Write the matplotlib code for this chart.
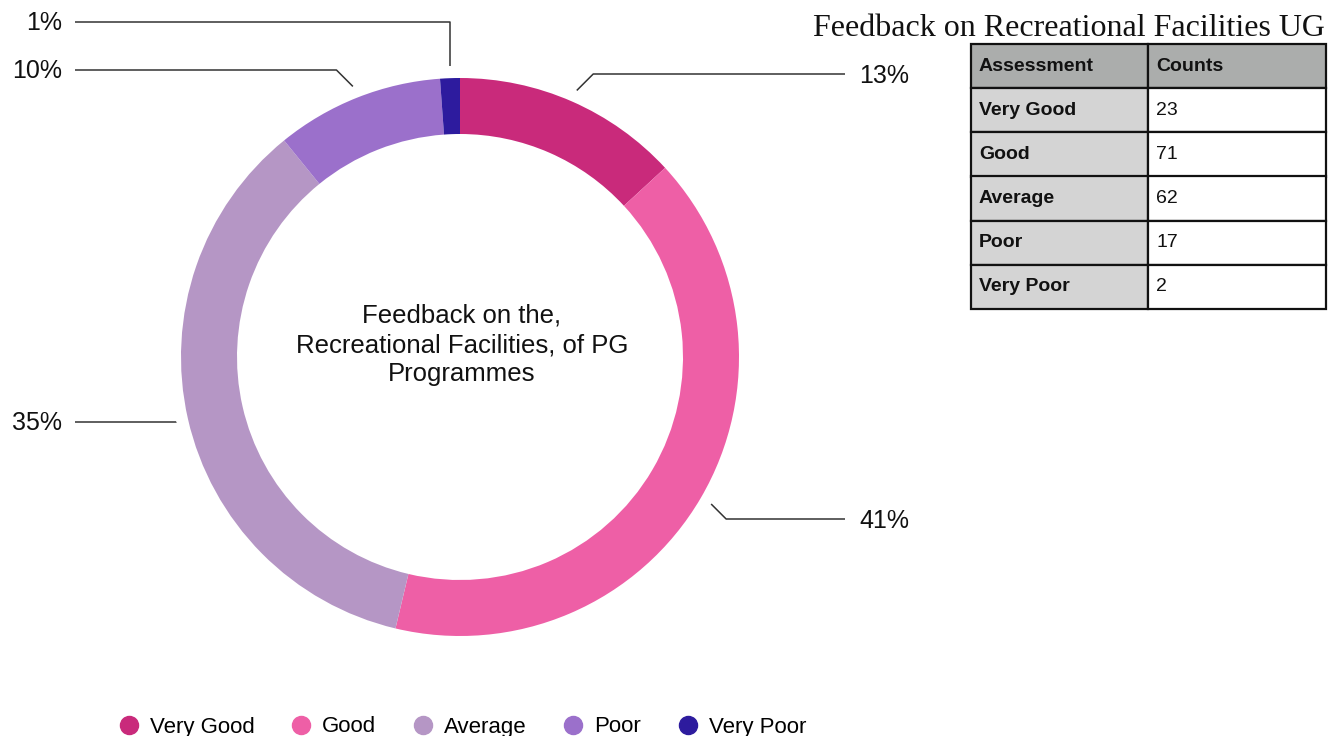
import numpy as np
import matplotlib
matplotlib.use("Agg")
import matplotlib.pyplot as plt
from matplotlib.lines import Line2D

plt.rcParams['font.family'] = ['Liberation Sans', 'DejaVu Sans']

# ---- data ----
categories = ["Very Good", "Good", "Average", "Poor", "Very Poor"]
counts = [23, 71, 62, 17, 2]
colors = ["#C92A7B", "#EE5FA6", "#B596C5", "#9B70CB", "#2D1B9E"]
center_title = "Feedback on the,\nRecreational Facilities, of PG\nProgrammes"
table_title = "Feedback on Recreational Facilities UG"
table_header = ["Assessment", "Counts"]

W, H = 1336, 736
fig = plt.figure(figsize=(W / 100, H / 100), dpi=100)
ax = fig.add_axes([0, 0, 1, 1])
ax.set_xlim(0, W)
ax.set_ylim(0, H)
ax.set_aspect('equal')
ax.axis('off')

def py(y):  # pixel-from-top to data y
    return H - y

cx, cy = 460, py(357)
R, ring = 279, 56

wedges, _ = ax.pie(counts, colors=colors, startangle=90, counterclock=False,
                   radius=R, center=(cx, cy),
                   wedgeprops=dict(width=ring, linewidth=0))
ax.set_xlim(0, W)
ax.set_ylim(0, H)

# ---- leader lines & percent labels ----
total = sum(counts)
pcts = [c / total * 100 for c in counts]
label_y = [74, 519, 422, 70, 22]
cum = 0
for i, c in enumerate(counts):
    mid_frac = (cum + c / 2) / total
    cum += c
    ang = np.deg2rad(90 - mid_frac * 360)
    r0 = R + 12
    sx, sy = cx + r0 * np.cos(ang), cy + r0 * np.sin(ang)
    ly = py(label_y[i])
    right = np.cos(ang) > 0
    dy = abs(ly - sy)
    if i == 4:
        ex = sx
    else:
        ex = sx + (dy if right else -dy)
    xend = 845 if right else 75
    ax.plot([sx, ex, xend], [sy, ly, ly], color="#333333", lw=1.1,
            solid_capstyle='butt')
    txt = f"{pcts[i]:.0f}%"
    if right:
        ax.text(859, ly - 2, txt, ha='left', va='center', fontsize=18, color='#111111')
    else:
        ax.text(62, ly - 1, txt, ha='right', va='center', fontsize=18, color='#111111')

# center text
ax.text(cx + 2, py(345), center_title, ha='center', va='center', fontsize=18.5,
        linespacing=1.28, color='#111111')

# ---- legend ----
handles = [Line2D([0], [0], marker='o', linestyle='', markersize=13,
                  markerfacecolor=col, markeredgecolor=col) for col in colors]
fig.legend(handles, categories, loc='center', bbox_to_anchor=(462 / W, 1 - 727 / H),
           ncol=5, frameon=False, fontsize=16, handletextpad=0.45,
           columnspacing=1.6, handlelength=1.0)

# ---- table ----
fig.text(1325 / W, 1 - 28 / H, table_title, ha='right', va='center',
         fontsize=23, family='Liberation Serif', color='#111111')

tx0, ty0, tx1, ty1 = 971, 44, 1326, 309
tax = fig.add_axes([tx0 / W, 1 - ty1 / H, (tx1 - tx0) / W, (ty1 - ty0) / H])
tax.axis('off')
cell_text = [[cat, str(c)] for cat, c in zip(categories, counts)]
tbl = tax.table(cellText=cell_text, colLabels=table_header, bbox=[0, 0, 1, 1],
                colWidths=[177, 178], cellLoc='left', colLoc='left')
tbl.auto_set_font_size(False)
for (r, c), cell in tbl.get_celld().items():
    cell.set_edgecolor('#111111')
    cell.set_linewidth(1.6)
    cell.PAD = 0.045
    t = cell.get_text()
    t.set_fontsize(14)
    t.set_color('#111111')
    t.set_va('center')
    if r == 0:
        cell.set_facecolor('#ABADAC')
        t.set_fontweight('bold')
    elif c == 0:
        cell.set_facecolor('#D4D4D4')
        t.set_fontweight('bold')
    else:
        cell.set_facecolor('#FFFFFF')

fig.savefig("out.png", dpi=100, facecolor='white')
